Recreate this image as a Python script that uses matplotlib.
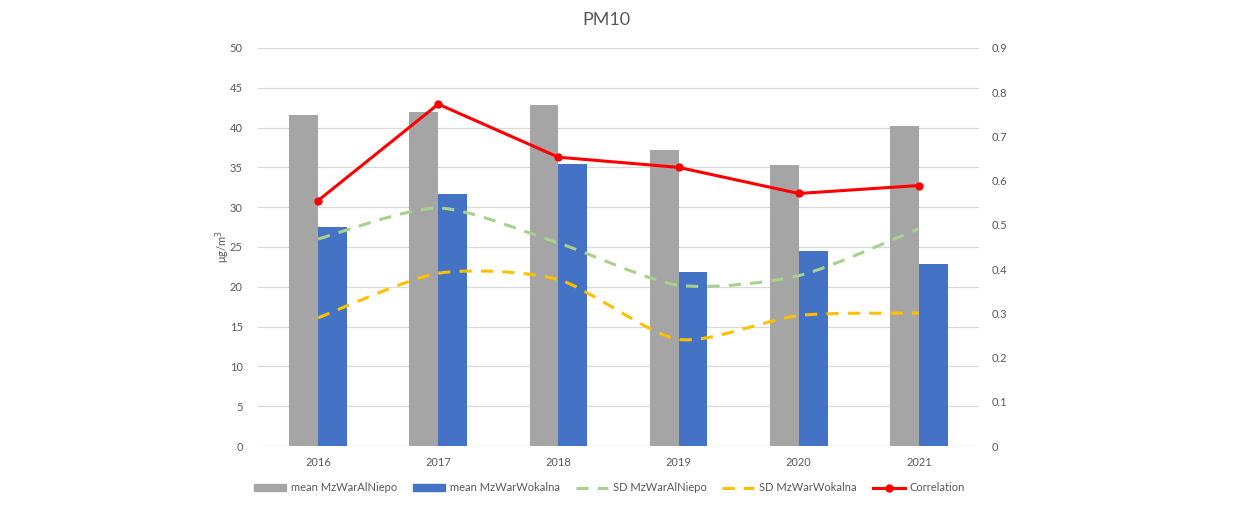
import matplotlib
matplotlib.use("Agg")
import matplotlib.pyplot as plt
from matplotlib.path import Path
from matplotlib.patches import PathPatch, Patch
from matplotlib.lines import Line2D
import numpy as np

years = ["2016", "2017", "2018", "2019", "2020", "2021"]
mean_alniepo = [41.6, 42.0, 42.8, 37.2, 35.3, 40.2]
mean_wokalna = [27.5, 31.7, 35.4, 21.9, 24.5, 22.9]
sd_alniepo = [26.0, 29.9, 25.5, 20.2, 21.4, 27.3]
sd_wokalna = [16.1, 21.7, 20.9, 13.4, 16.4, 16.7]
correlation = [0.555, 0.773, 0.653, 0.630, 0.571, 0.589]

plt.rcParams['font.family'] = ['Lato', 'DejaVu Sans']
txt = '#595959'

fig = plt.figure(figsize=(12.5, 5.12), dpi=100)
ax = fig.add_axes([0.2064, 0.1289, 0.5768, 0.7774])
ax2 = ax.twinx()

x = np.arange(len(years))
w = 0.24
ax.bar(x - w / 2, mean_alniepo, width=w, color='#A5A5A5', zorder=2)
ax.bar(x + w / 2, mean_wokalna, width=w, color='#4472C4', zorder=2)


def smooth_path(xs, ys, k=8.0):
    pts = np.column_stack([xs, ys]).astype(float)
    n = len(pts)
    verts = [pts[0]]
    codes = [Path.MOVETO]
    for i in range(n - 1):
        p0 = pts[i - 1] if i > 0 else pts[i]
        p1 = pts[i]
        p2 = pts[i + 1]
        p3 = pts[i + 2] if i + 2 < n else pts[i + 1]
        c1 = p1 + (p2 - p0) / k
        c2 = p2 - (p3 - p1) / k
        verts += [c1, c2, p2]
        codes += [Path.CURVE4] * 3
    return Path(verts, codes)


dash = (0, (4, 3))
for ys, col in [(sd_alniepo, '#A9D18E'), (sd_wokalna, '#FFC000')]:
    pp = PathPatch(smooth_path(x, ys), facecolor='none', edgecolor=col,
                   lw=2.2, linestyle=dash, zorder=3, capstyle='butt')
    ax.add_patch(pp)

ax2.plot(x, correlation, color='#FF0000', lw=2.2, marker='o', markersize=5, zorder=4)

ax.set_xlim(-0.5, len(years) - 0.5)
ax.set_ylim(0, 50)
ax.set_yticks(np.arange(0, 51, 5))
ax2.set_ylim(0, 0.9)
ax2.set_yticks(np.arange(0, 0.91, 0.1))
ax2.set_yticklabels(['0'] + [f'{v:.1f}' for v in np.arange(0.1, 0.91, 0.1)])
ax.set_xticks(x)
ax.set_xticklabels(years)

ax.grid(axis='y', color='#D9D9D9', lw=0.9, zorder=0)
ax.set_axisbelow(True)
for a in (ax, ax2):
    for s in a.spines.values():
        s.set_visible(False)
    a.tick_params(length=0, colors=txt, labelsize=8)
ax.tick_params(axis='y', pad=11)
ax2.tick_params(axis='y', pad=9)
ax.tick_params(axis='x', pad=8)
ax.set_ylabel('μg/m$^3$', color=txt, fontsize=8)
ax.yaxis.set_label_coords(-0.036, 0.5)
ax2.set_zorder(ax.get_zorder() + 1)
ax2.patch.set_visible(False)

fig.text(0.485, 0.96, 'PM10', ha='center', va='center', fontsize=13, color=txt)

handles = [
    Patch(color='#A5A5A5', label='mean MzWarAlNiepo'),
    Patch(color='#4472C4', label='mean MzWarWokalna'),
    Line2D([], [], color='#A9D18E', lw=2.2, linestyle=dash, label='SD MzWarAlNiepo'),
    Line2D([], [], color='#FFC000', lw=2.2, linestyle=dash, label='SD MzWarWokalna'),
    Line2D([], [], color='#FF0000', lw=2.2, marker='o', markersize=5, label='Correlation'),
]
fig.legend(handles=handles, loc='center', bbox_to_anchor=(0.4876, 0.047), ncol=5,
           frameon=False, fontsize=8, labelcolor=txt, handlelength=2.9,
           handleheight=0.6, columnspacing=1.4, handletextpad=0.45)

fig.savefig('out.png', dpi=100, facecolor='white')
